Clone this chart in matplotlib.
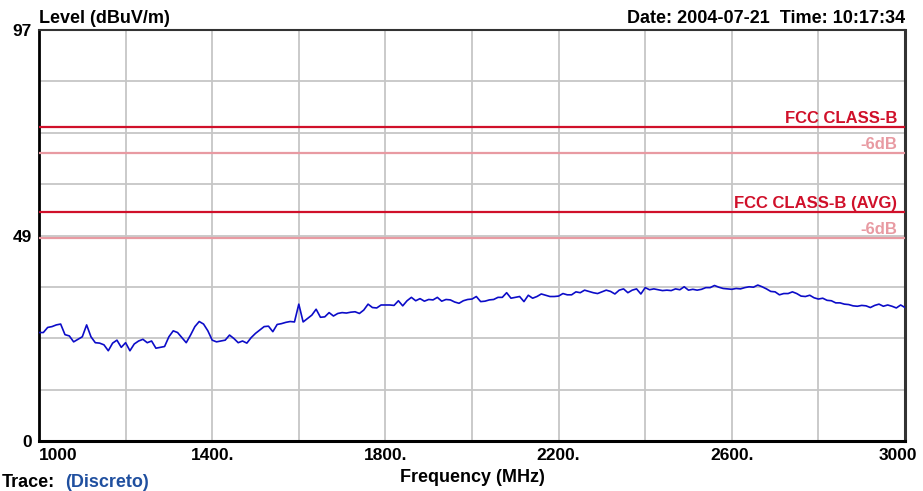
import numpy as np
import matplotlib
matplotlib.use('Agg')
import matplotlib.pyplot as plt
import matplotlib.transforms as mtrans

plt.rcParams['font.family'] = ['Liberation Sans', 'DejaVu Sans']

# trace, one point every 10 MHz from 1000 to 3000
freq = np.arange(1000, 3001, 10)
level = [
    25.6, 25.6, 26.8, 27.0, 27.4, 27.6, 25.1, 24.8, 23.4, 24.0,
    24.6, 27.4, 24.6, 23.2, 23.1, 22.7, 21.3, 23.1, 23.8, 22.1,
    23.2, 21.3, 22.9, 23.6, 24.0, 23.2, 23.6, 21.9, 22.1, 22.3,
    24.6, 26.0, 25.6, 24.4, 23.2, 25.0, 27.0, 28.2, 27.6, 26.0,
    23.8, 23.4, 23.6, 23.8, 25.0, 24.2, 23.2, 23.6, 23.1, 24.4,
    25.4, 26.2, 27.0, 27.1, 25.8, 27.5, 27.7, 28.0, 28.2, 28.1,
    32.3, 28.1, 28.9, 29.7, 31.1, 29.2, 29.3, 30.3, 29.5, 30.1,
    30.3, 30.2, 30.4, 30.5, 30.1, 30.9, 32.3, 31.5, 31.4, 32.1,
    32.1, 32.1, 32.0, 33.1, 31.9, 33.1, 33.9, 33.1, 33.6, 33.0,
    33.4, 33.3, 33.9, 33.0, 33.4, 33.3, 32.8, 32.5, 33.1, 33.4,
    33.5, 34.1, 32.9, 33.0, 33.3, 33.4, 33.9, 33.9, 35.0, 33.7,
    33.9, 34.1, 32.9, 34.4, 33.7, 34.1, 34.7, 34.4, 34.1, 34.1,
    34.2, 34.8, 34.5, 34.5, 35.2, 35.0, 35.6, 35.3, 35.0, 34.8,
    35.2, 35.6, 35.3, 34.7, 35.6, 35.9, 35.0, 35.6, 35.9, 34.7,
    36.2, 35.7, 35.9, 35.7, 35.5, 35.6, 35.5, 35.9, 35.7, 36.4,
    35.6, 35.8, 35.6, 35.8, 36.2, 36.2, 36.7, 36.3, 36.0, 35.9,
    35.8, 36.0, 35.9, 36.2, 36.4, 36.3, 36.8, 36.4, 35.9, 35.3,
    35.2, 34.5, 34.8, 34.8, 35.2, 34.8, 34.2, 34.1, 34.4, 33.8,
    33.5, 33.7, 33.2, 33.1, 32.6, 32.6, 32.3, 32.2, 31.9, 31.8,
    32.0, 31.9, 31.5, 32.0, 32.3, 31.8, 32.1, 31.8, 31.4, 32.1,
    31.5,
]

limit_vals = [74, 68, 54, 48]
limit_names = ['FCC CLASS-B', '-6dB', 'FCC CLASS-B (AVG)', '-6dB']

xtick_vals = [1000, 1400, 1800, 2200, 2600, 3000]
xtick_labels = ['1000', '1400.', '1800.', '2200.', '2600.', '3000']
xgrid_minor = [1200, 1600, 2000, 2400, 2800]
ytick_labels = ['0', '', '', '', '49', '', '', '', '97']

limit_colors = ['#d0102a', '#e89aa2', '#d0102a', '#e89aa2']

fig = plt.figure(figsize=(9.23, 4.91), dpi=100)
ax = fig.add_axes([39/923, 1 - 441/491, 866/923, 411/491])

ax.plot(freq, level, color='#0c0cc8', lw=1.2, zorder=4)
for v, name, c in zip(limit_vals, limit_names, limit_colors):
    ax.axhline(v, color=c, lw=1.6, zorder=3)
    ax.annotate(name, xy=(1, v), xycoords=('axes fraction', 'data'),
                xytext=(-8, 4), textcoords='offset pixels', ha='right', va='baseline',
                color=c, fontsize=12, fontweight='bold')

ax.set_xlim(1000, 3000)
ax.set_ylim(0, 97)
ax.set_xticks(xtick_vals)
ax.set_xticklabels(xtick_labels)
ax.set_xticks(xgrid_minor, minor=True)
ax.set_yticks(np.linspace(0, 97, 9))
ax.set_yticklabels(ytick_labels)
ax.set_axisbelow(True)
ax.grid(True, which='both', color='#c6c6c6', lw=1.3)
ax.tick_params(which='both', length=0, labelsize=12.5)
ax.tick_params(axis='x', pad=5)
ax.tick_params(axis='y', pad=5)
for lbl in ax.get_xticklabels() + ax.get_yticklabels():
    lbl.set_fontweight('bold')
xl = ax.get_xticklabels()
xl[0].set_ha('left')
xl[-1].set_ha('right')
xl[-1].set_transform(xl[-1].get_transform() + mtrans.ScaledTranslation(0.12, 0, fig.dpi_scale_trans))

ax.spines['left'].set_linewidth(2)
ax.spines['bottom'].set_linewidth(2.2)
ax.spines['top'].set_linewidth(1.5)
ax.spines['right'].set_linewidth(2.2)
for s in ['top', 'right']:
    ax.spines[s].set_color('#333333')

ax.annotate('Level (dBuV/m)', xy=(0, 1), xycoords='axes fraction', xytext=(0, 7),
            textcoords='offset pixels', ha='left', va='baseline', fontsize=13, fontweight='bold')
ax.annotate('Date: 2004-07-21  Time: 10:17:34', xy=(1, 1), xycoords='axes fraction',
            xytext=(0, 7), textcoords='offset pixels', ha='right', va='baseline',
            fontsize=13, fontweight='bold')

fig.text(472/923, 1 - 469/491, 'Frequency (MHz)', ha='center', va='top', fontsize=13, fontweight='bold')
fig.text(2/923, 1 - 474/491, 'Trace:', ha='left', va='top', fontsize=13, fontweight='bold')
fig.text(65/923, 1 - 474/491, '(Discreto)', ha='left', va='top', fontsize=13,
         fontweight='bold', color='#1f4f9f')

fig.savefig('out.png', dpi=100)
